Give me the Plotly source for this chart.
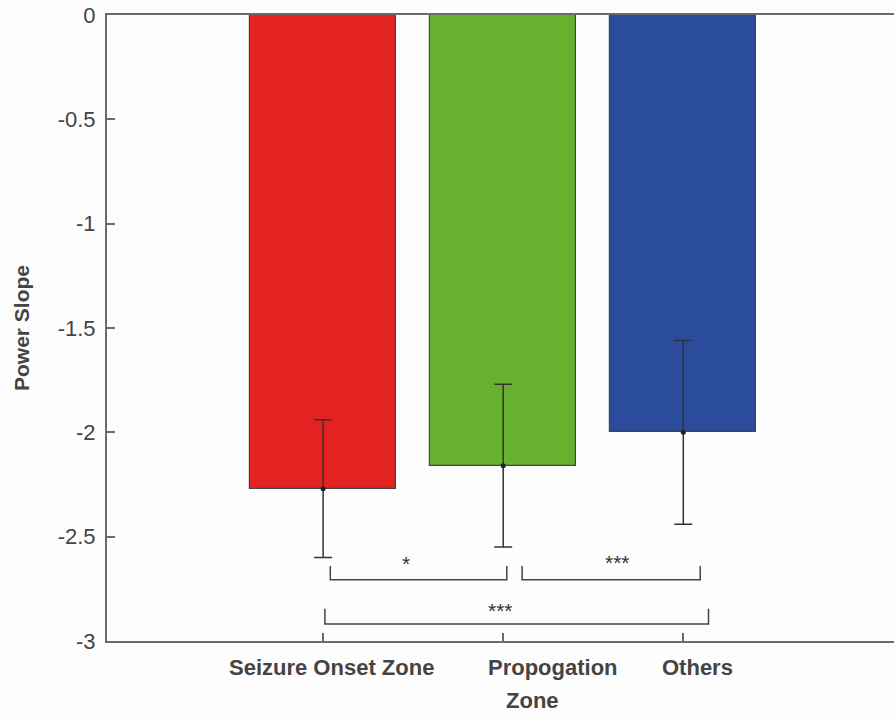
import plotly.graph_objects as go

# Group means and error (half-length) of the power slope
categories = ["Seizure Onset Zone", "Propogation", "Others"]
second_line = ["", "Zone", ""]
positions = [1, 2, 3]
means = [-2.27, -2.16, -2.00]
errors = [0.33, 0.39, 0.44]
bar_colors = ["#E32222", "#66B22E", "#2B4C9B"]

# Significance brackets: left x, right x, base y, tip y, label and label position
bracket_x0 = [1.04, 2.105, 1.01]
bracket_x1 = [2.02, 3.094, 3.14]
bracket_base = [-2.707, -2.707, -2.918]
bracket_tip = [-2.64, -2.64, -2.846]
bracket_labels = ["*", "***", "***"]
label_x = [1.461, 2.633, 1.983]
label_y = [-2.621, -2.616, -2.846]

y_ticks = [0, -0.5, -1, -1.5, -2, -2.5, -3]
y_ticktext = ["0", "-0.5", "-1", "-1.5", "-2", "-2.5", "-3"]

axis_color = "#6b6b6b"
text_color = "#444444"
font_family = "Liberation Sans Narrow, Arial Narrow, Liberation Sans, Arial, sans-serif"

fig = go.Figure()

fig.add_trace(go.Bar(
    x=positions, y=means, width=0.81,
    marker=dict(color=bar_colors, line=dict(color="#444444", width=1.2)),
    error_y=dict(type="data", array=errors, visible=True,
                 color="#333333", thickness=1.5, width=9),
    showlegend=False, hoverinfo="skip",
))

# mean markers at the end of each bar
fig.add_trace(go.Scatter(
    x=positions, y=means, mode="markers",
    marker=dict(color="#222222", size=5),
    showlegend=False, hoverinfo="skip",
))

for x0, x1, yb, yt in zip(bracket_x0, bracket_x1, bracket_base, bracket_tip):
    fig.add_trace(go.Scatter(
        x=[x0, x0, x1, x1], y=[yt, yb, yb, yt], mode="lines",
        line=dict(color="#444444", width=1.5),
        showlegend=False, hoverinfo="skip",
    ))

for lx, ly, lab in zip(label_x, label_y, bracket_labels):
    fig.add_annotation(
        x=lx, y=ly, text=lab, showarrow=False,
        yanchor="middle", yshift=-2,
        font=dict(family=font_family, size=21, color="#333333"),
    )

# category labels below the axis
label_shift = [8, 50, 14]
line2_shift = [0, 29, 0]
for pos, cat, sub, dx, dx2 in zip(positions, categories, second_line, label_shift, line2_shift):
    fig.add_annotation(
        x=pos, y=0, xref="x", yref="paper", text="<b>" + cat + "</b>",
        showarrow=False, yanchor="top", yshift=-12, xshift=dx,
        font=dict(family=font_family, size=22, color=text_color),
    )
    if sub:
        fig.add_annotation(
            x=pos, y=0, xref="x", yref="paper", text="<b>" + sub + "</b>",
            showarrow=False, yanchor="top", yshift=-45, xshift=dx2,
            font=dict(family=font_family, size=22, color=text_color),
        )

fig.update_layout(
    width=894, height=719,
    margin=dict(l=107, r=0, t=15, b=78),
    paper_bgcolor="#fdfdfd", plot_bgcolor="#fdfdfd",
    bargap=0,
)

fig.update_xaxes(
    range=[-0.2, 4.17], tickvals=positions, ticktext=["", "", ""],
    ticks="inside", ticklen=8, tickwidth=1.5, tickcolor=axis_color,
    showline=True, linecolor=axis_color, linewidth=2, mirror=True,
    showgrid=False, zeroline=False,
)

fig.update_yaxes(
    range=[-3, 0], tickvals=y_ticks, ticktext=y_ticktext,
    ticks="inside", ticklen=8, tickwidth=1.5, tickcolor=axis_color,
    ticklabelstandoff=5,
    showline=True, linecolor=axis_color, linewidth=2,
    showgrid=False, zeroline=False,
    tickfont=dict(family=font_family, size=22, color=text_color),
    title=dict(text="<b>Power Slope</b>", standoff=22,
               font=dict(family=font_family, size=21, color=text_color)),
)

fig.write_html("out.html")
